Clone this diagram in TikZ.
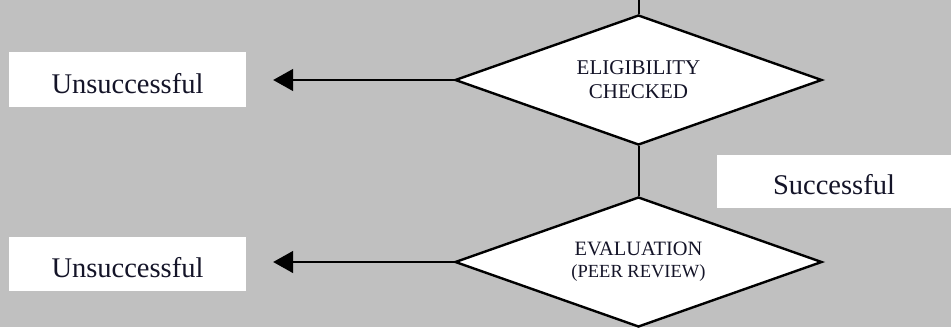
\documentclass[tikz,border=0pt]{standalone}
\usepackage{fontspec}
\setmainfont{Liberation Serif}
\usetikzlibrary{shapes.geometric,arrows.meta}
\definecolor{bggray}{RGB}{192,192,192}
\definecolor{txtcol}{RGB}{20,20,40}
\tikzset{
  decision/.style={diamond, draw=black, fill=white, line width=2.4pt, inner sep=0pt,
    aspect=2.82, minimum width=367pt, minimum height=130pt, align=center, text=txtcol},
  resultbox/.style={rectangle, fill=white, inner sep=0pt, text height=27pt, text depth=0pt,
    font=\fontsize{28.5}{30}\selectfont, text=txtcol},
  connector/.style={draw=black, line width=2pt},
  outarrow/.style={draw=black, line width=1.6pt, -{Triangle[length=20pt,width=22pt]}, shorten >=27pt}
}
\begin{document}
\begin{tikzpicture}[x=1pt,y=-1pt]
  \fill[bggray] (0,0) rectangle (951,327);
  \useasboundingbox (0,0) rectangle (951,327);
  \coordinate (top) at (638.5,0);
  \node[decision, font=\fontsize{21}{24}\selectfont] (d1) at (638.5,80) {ELIGIBILITY\\CHECKED};
  \node[decision, font=\fontsize{20.4}{22}\selectfont] (d2) at (638.5,262) {EVALUATION\\{\fontsize{18.5}{22}\selectfont (PEER REVIEW)}};
  \node[resultbox, minimum width=237pt, minimum height=55pt] (u1) at (127.5,79.5) {Unsuccessful};
  \node[resultbox, minimum width=237pt, minimum height=54pt] (u2) at (127.5,264) {Unsuccessful};
  \node[resultbox, minimum width=234pt, minimum height=53pt, text height=26pt] (s1) at (834,181.5) {Successful};
  \draw[connector] (top) -- (d1.north);
  \draw[connector] (d1.south) -- (d2.north);
  \draw[outarrow] (d1.west) -- (d1.west -| u1.east);
  \draw[outarrow] (d2.west) -- (d2.west -| u2.east);
\end{tikzpicture}
\end{document}
